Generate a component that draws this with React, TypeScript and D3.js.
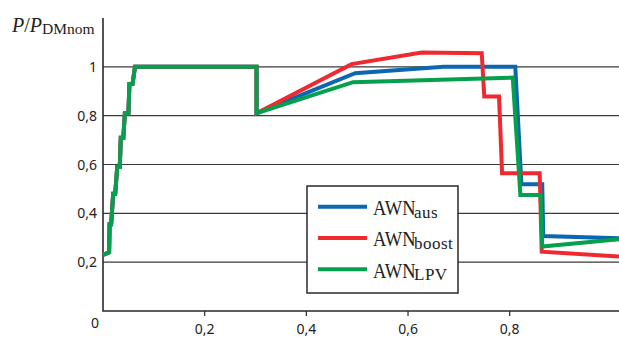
import { useEffect, useRef } from "react";
import * as d3 from "d3";

// shared start-up ramp (all three strategies overlap here)
const rampX = [0, 0.012, 0.013, 0.016, 0.02, 0.024, 0.028, 0.033, 0.035, 0.04, 0.043, 0.05, 0.052, 0.058, 0.063, 0.302, 0.302];
const rampY = [0.23, 0.24, 0.355, 0.355, 0.48, 0.48, 0.59, 0.59, 0.71, 0.71, 0.81, 0.81, 0.93, 0.93, 1.0, 1.0, 0.81];

const ausX = [0.496, 0.67, 0.811, 0.823, 0.864, 0.866, 1.015];
const ausY = [0.974, 1.0, 1.0, 0.519, 0.519, 0.307, 0.298];

const boostX = [0.489, 0.627, 0.745, 0.75, 0.779, 0.785, 0.859, 0.863, 1.015];
const boostY = [1.011, 1.059, 1.056, 0.878, 0.878, 0.564, 0.564, 0.243, 0.223];

const lpvX = [0.492, 0.806, 0.821, 0.861, 0.864, 1.015];
const lpvY = [0.937, 0.956, 0.475, 0.475, 0.264, 0.294];

const xTicks = [0.2, 0.4, 0.6, 0.8];
const yTicks = [0.2, 0.4, 0.6, 0.8, 1];

const SERIES = [
  { key: "aus", sub: "aus", color: "#0b67b0", xs: ausX, ys: ausY },
  { key: "boost", sub: "boost", color: "#ee2a30", xs: boostX, ys: boostY },
  { key: "lpv", sub: "LPV", color: "#05a04e", xs: lpvX, ys: lpvY },
];

const W = 619;
const H = 341;
const fmt = (v: number) => String(v).replace(".", ",");

export default function App() {
  const ref = useRef<SVGSVGElement | null>(null);

  useEffect(() => {
    const x = d3.scaleLinear().domain([0, 1.015]).range([103, 619]);
    const y = d3.scaleLinear().domain([0, 1.2]).range([311, 18]);

    const svg = d3.select(ref.current);
    svg.selectAll("*").remove();

    // grid
    svg
      .append("g")
      .selectAll("line")
      .data(yTicks)
      .join("line")
      .attr("x1", x(0))
      .attr("x2", W)
      .attr("y1", (d) => y(d))
      .attr("y2", (d) => y(d))
      .attr("stroke", "#3a3a3a")
      .attr("stroke-width", 1.2);

    // axes
    svg
      .append("path")
      .attr("d", `M${x(0)},${y(1.2)}V${y(0)}H${W}`)
      .attr("fill", "none")
      .attr("stroke", "#2a2a2a")
      .attr("stroke-width", 1.6);
    svg
      .append("g")
      .selectAll("line")
      .data(xTicks)
      .join("line")
      .attr("x1", (d) => x(d))
      .attr("x2", (d) => x(d))
      .attr("y1", y(0))
      .attr("y2", y(0) + 5)
      .attr("stroke", "#2a2a2a")
      .attr("stroke-width", 1.2);

    const sans = "'Noto Sans', 'Open Sans', sans-serif";
    svg
      .append("g")
      .selectAll("text")
      .data(xTicks)
      .join("text")
      .attr("x", (d) => x(d))
      .attr("y", 334)
      .attr("text-anchor", "middle")
      .attr("font-family", sans)
      .attr("font-size", 14)
      .attr("fill", "#222")
      .text(fmt);
    svg
      .append("g")
      .selectAll("text")
      .data(yTicks)
      .join("text")
      .attr("x", 97)
      .attr("y", (d) => y(d) + 5)
      .attr("text-anchor", "end")
      .attr("font-family", sans)
      .attr("font-size", 14)
      .attr("fill", "#222")
      .text(fmt);
    svg
      .append("text")
      .attr("x", 95)
      .attr("y", 328)
      .attr("text-anchor", "middle")
      .attr("font-family", sans)
      .attr("font-size", 14)
      .attr("fill", "#222")
      .text("0");

    // axis title P/P_DMnom
    const title = svg
      .append("text")
      .attr("x", 12)
      .attr("y", 31.5)
      .attr("font-family", "'Liberation Serif', serif")
      .attr("font-size", 20)
      .attr("fill", "#222");
    title.append("tspan").attr("font-style", "italic").text("P");
    title.append("tspan").text("/");
    title.append("tspan").attr("font-style", "italic").text("P");
    title.append("tspan").attr("font-size", 15.5).attr("dy", 2.8).text("DMnom");

    // lines
    const line = d3
      .line<[number, number]>()
      .x((d) => x(d[0]))
      .y((d) => y(d[1]));
    for (const s of SERIES) {
      const pts: [number, number][] = rampX
        .map((v, i) => [v, rampY[i]] as [number, number])
        .concat(s.xs.map((v, i) => [v, s.ys[i]] as [number, number]));
      svg
        .append("path")
        .attr("d", line(pts))
        .attr("fill", "none")
        .attr("stroke", s.color)
        .attr("stroke-width", 4)
        .attr("stroke-linejoin", "miter");
    }

    // legend
    const lg = svg.append("g");
    lg.append("rect")
      .attr("x", 307)
      .attr("y", 186)
      .attr("width", 151)
      .attr("height", 107)
      .attr("fill", "#fff")
      .attr("stroke", "#2a2a2a")
      .attr("stroke-width", 1.5);
    SERIES.forEach((s, i) => {
      const ly = 206.7 + i * 31.3;
      lg.append("line")
        .attr("x1", 318)
        .attr("x2", 367)
        .attr("y1", ly)
        .attr("y2", ly)
        .attr("stroke", s.color)
        .attr("stroke-width", 4);
      // the reference face is narrow: squeeze the capitals horizontally
      lg.append("text")
        .attr("transform", `translate(373,${ly + 8.3}) scale(0.88,1)`)
        .attr("font-family", "'Liberation Serif', serif")
        .attr("font-size", 21)
        .attr("fill", "#222")
        .text("AWN");
      lg.append("text")
        .attr("x", 414)
        .attr("y", ly + 11)
        .attr("font-family", "'Liberation Serif', serif")
        .attr("font-size", 17)
        .attr("letter-spacing", 0.5)
        .attr("fill", "#222")
        .text(s.sub);
    });
  }, []);

  return (
    <div style={{ position: "absolute", left: 0, top: 0 }}>
      <svg ref={ref} width={W} height={H} style={{ display: "block", background: "#fff" }} />
    </div>
  );
}
